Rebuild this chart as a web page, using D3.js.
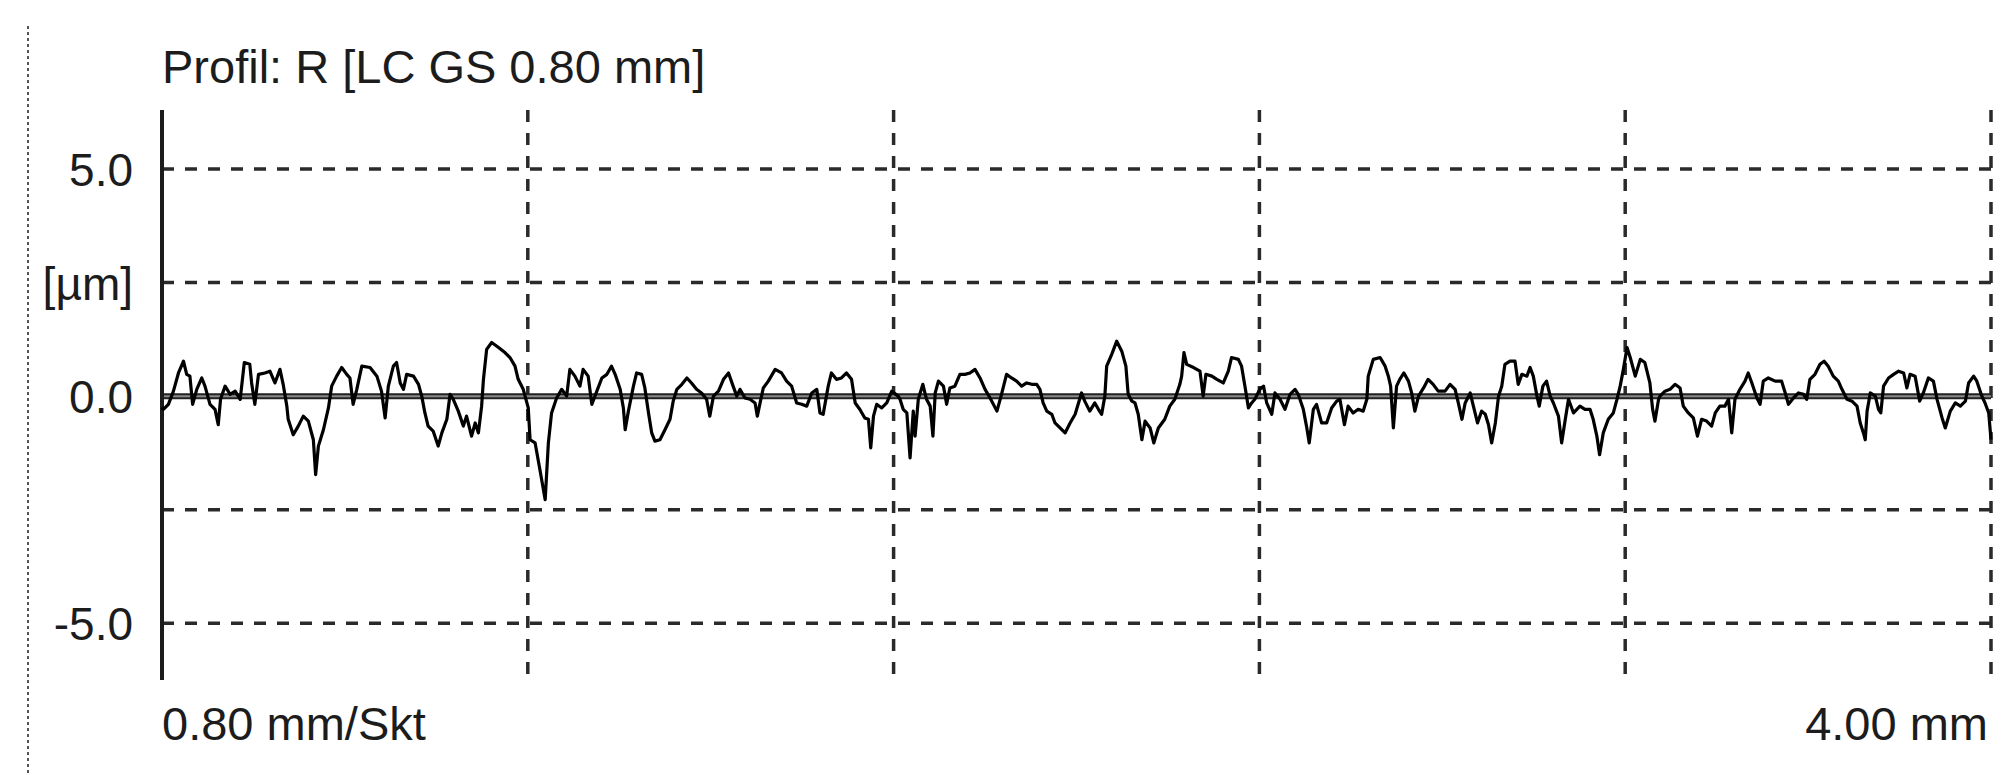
<!DOCTYPE html>
<html>
<head>
<meta charset="utf-8">
<script src="https://cdn.jsdelivr.net/npm/d3@7"></script>
<style>
    body { margin: 0; background: #fff; }
    text { font-family: "Liberation Sans", Arial, sans-serif; fill: #1c1c1c; }
</style>
</head>
<body>
<div id="chart"></div>
<script>
const title = "Profil: R [LC GS 0.80 mm]";
const yTicks = [5, 2.5, 0, -2.5, -5];
const yTickLabels = ["5.0", "[µm]", "0.0", "", "-5.0"];
const xGrid = [0.8, 1.6, 2.4, 3.2, 4.0];
const xLabelLeft = "0.80 mm/Skt";
const xLabelRight = "4.00 mm";

// profile: [position mm, height µm]
const profile = [
    [0.000, -0.25], [0.003, -0.29], [0.014, -0.18], [0.025, 0.11], [0.036, 0.51], [0.047, 0.77], [0.054, 0.48],
    [0.061, 0.44], [0.067, -0.18], [0.076, 0.15], [0.087, 0.40], [0.094, 0.22], [0.105, -0.18], [0.116, -0.29],
    [0.123, -0.63], [0.128, -0.07], [0.138, 0.22], [0.149, 0.04], [0.160, 0.11], [0.171, -0.07], [0.180, 0.74],
    [0.192, 0.70], [0.196, 0.29], [0.203, -0.18], [0.211, 0.48], [0.225, 0.51], [0.236, 0.55], [0.247, 0.29],
    [0.258, 0.59], [0.265, 0.26], [0.273, -0.22], [0.276, -0.51], [0.287, -0.85], [0.298, -0.66], [0.309, -0.44],
    [0.320, -0.55], [0.331, -0.96], [0.336, -1.73], [0.342, -1.10], [0.353, -0.74], [0.364, -0.26], [0.371, 0.22],
    [0.382, 0.44], [0.393, 0.63], [0.404, 0.48], [0.411, 0.40], [0.418, -0.18], [0.426, 0.15], [0.437, 0.66],
    [0.455, 0.63], [0.470, 0.44], [0.480, 0.11], [0.488, -0.48], [0.495, 0.22], [0.506, 0.66], [0.513, 0.74],
    [0.521, 0.29], [0.528, 0.15], [0.535, 0.48], [0.550, 0.44], [0.561, 0.26], [0.568, 0.00], [0.575, -0.37],
    [0.582, -0.66], [0.593, -0.77], [0.604, -1.10], [0.612, -0.81], [0.623, -0.51], [0.630, 0.04], [0.637, -0.07],
    [0.648, -0.33], [0.659, -0.66], [0.666, -0.44], [0.677, -0.88], [0.685, -0.59], [0.692, -0.81], [0.699, -0.22],
    [0.703, 0.37], [0.710, 1.03], [0.721, 1.18], [0.736, 1.07], [0.750, 0.96], [0.761, 0.85], [0.772, 0.66],
    [0.779, 0.37], [0.790, 0.15], [0.801, -0.26], [0.805, -0.96], [0.816, -1.03], [0.827, -1.65], [0.838, -2.28],
    [0.845, -1.03], [0.852, -0.37], [0.863, -0.04], [0.874, 0.15], [0.885, 0.00], [0.892, 0.59], [0.903, 0.44],
    [0.914, 0.22], [0.921, 0.59], [0.932, 0.44], [0.940, -0.18], [0.951, 0.11], [0.962, 0.40], [0.973, 0.48],
    [0.983, 0.66], [0.991, 0.48], [1.002, 0.15], [1.009, -0.26], [1.013, -0.74], [1.020, -0.33], [1.031, 0.22],
    [1.038, 0.51], [1.049, 0.48], [1.056, 0.18], [1.064, -0.37], [1.071, -0.81], [1.078, -0.99], [1.089, -0.96],
    [1.100, -0.74], [1.111, -0.51], [1.118, -0.11], [1.126, 0.15], [1.137, 0.26], [1.148, 0.40], [1.158, 0.29],
    [1.169, 0.15], [1.180, 0.07], [1.191, -0.07], [1.198, -0.44], [1.206, 0.00], [1.217, 0.11], [1.228, 0.37],
    [1.239, 0.51], [1.249, 0.22], [1.257, 0.00], [1.264, 0.15], [1.275, -0.04], [1.286, -0.07], [1.297, -0.15],
    [1.302, -0.44], [1.308, -0.15], [1.315, 0.18], [1.326, 0.33], [1.341, 0.59], [1.355, 0.51], [1.366, 0.33],
    [1.377, 0.22], [1.388, -0.15], [1.399, -0.18], [1.410, -0.22], [1.421, 0.07], [1.432, 0.15], [1.439, -0.37],
    [1.446, -0.40], [1.457, 0.22], [1.464, 0.51], [1.475, 0.37], [1.486, 0.40], [1.497, 0.51], [1.508, 0.37],
    [1.516, -0.15], [1.526, -0.29], [1.537, -0.48], [1.545, -0.51], [1.550, -1.14], [1.556, -0.44], [1.563, -0.18],
    [1.574, -0.26], [1.585, -0.15], [1.596, 0.11], [1.610, 0.00], [1.614, -0.07], [1.621, -0.29], [1.629, -0.37],
    [1.636, -1.36], [1.643, -0.33], [1.647, -0.88], [1.654, -0.07], [1.664, 0.26], [1.672, -0.07], [1.680, -0.22],
    [1.686, -0.88], [1.691, 0.07], [1.698, 0.33], [1.709, 0.22], [1.716, -0.18], [1.723, 0.18], [1.734, 0.22],
    [1.745, 0.48], [1.756, 0.48], [1.767, 0.51], [1.778, 0.59], [1.789, 0.40], [1.800, 0.15], [1.811, -0.04],
    [1.826, -0.33], [1.836, 0.04], [1.847, 0.48], [1.858, 0.40], [1.869, 0.33], [1.880, 0.22], [1.891, 0.29],
    [1.902, 0.26], [1.913, 0.26], [1.920, 0.15], [1.927, -0.15], [1.935, -0.33], [1.946, -0.40], [1.953, -0.59],
    [1.964, -0.70], [1.975, -0.81], [1.986, -0.59], [1.997, -0.40], [2.011, 0.07], [2.018, -0.11], [2.029, -0.33],
    [2.040, -0.15], [2.048, -0.29], [2.055, -0.40], [2.062, 0.00], [2.066, 0.66], [2.077, 0.92], [2.088, 1.21],
    [2.099, 0.99], [2.108, 0.66], [2.113, 0.04], [2.121, -0.11], [2.128, -0.15], [2.135, -0.40], [2.143, -0.96],
    [2.150, -0.55], [2.161, -0.70], [2.169, -1.03], [2.179, -0.70], [2.193, -0.51], [2.204, -0.22], [2.215, -0.07],
    [2.226, 0.26], [2.230, 0.44], [2.235, 0.96], [2.241, 0.70], [2.256, 0.63], [2.270, 0.55], [2.277, 0.00],
    [2.283, 0.48], [2.296, 0.44], [2.307, 0.37], [2.321, 0.29], [2.332, 0.55], [2.339, 0.85], [2.354, 0.81],
    [2.361, 0.66], [2.369, 0.18], [2.376, -0.26], [2.383, -0.15], [2.390, -0.07], [2.401, 0.15], [2.409, 0.22],
    [2.416, -0.15], [2.427, -0.40], [2.434, 0.07], [2.445, -0.07], [2.456, -0.29], [2.467, 0.04], [2.478, 0.15],
    [2.485, 0.04], [2.496, -0.29], [2.503, -0.66], [2.509, -1.03], [2.518, -0.29], [2.525, -0.18], [2.536, -0.59],
    [2.547, -0.59], [2.558, -0.26], [2.569, -0.11], [2.576, -0.07], [2.586, -0.63], [2.594, -0.22], [2.605, -0.37],
    [2.616, -0.29], [2.627, -0.33], [2.635, -0.07], [2.638, 0.44], [2.649, 0.81], [2.664, 0.85], [2.675, 0.66],
    [2.682, 0.44], [2.687, 0.22], [2.693, -0.70], [2.700, 0.22], [2.707, 0.37], [2.716, 0.51], [2.726, 0.33],
    [2.733, 0.07], [2.740, -0.33], [2.748, 0.00], [2.759, 0.18], [2.769, 0.37], [2.780, 0.26], [2.791, 0.11],
    [2.806, 0.11], [2.817, 0.26], [2.828, 0.15], [2.835, -0.15], [2.843, -0.51], [2.850, -0.15], [2.861, 0.07],
    [2.868, -0.22], [2.877, -0.59], [2.886, -0.33], [2.894, -0.40], [2.901, -0.63], [2.908, -1.03], [2.916, -0.59],
    [2.923, 0.00], [2.930, 0.22], [2.937, 0.70], [2.948, 0.77], [2.959, 0.77], [2.966, 0.26], [2.974, 0.48],
    [2.985, 0.44], [2.992, 0.63], [2.999, 0.44], [3.007, 0.00], [3.012, -0.22], [3.020, 0.22], [3.028, 0.33],
    [3.036, 0.00], [3.043, -0.15], [3.054, -0.44], [3.061, -1.03], [3.069, -0.51], [3.076, -0.07], [3.087, -0.37],
    [3.101, -0.22], [3.112, -0.29], [3.123, -0.29], [3.130, -0.51], [3.138, -0.88], [3.144, -1.29], [3.152, -0.81],
    [3.163, -0.51], [3.174, -0.37], [3.182, -0.07], [3.189, 0.22], [3.196, 0.59], [3.204, 1.07], [3.211, 0.85],
    [3.222, 0.44], [3.233, 0.81], [3.243, 0.74], [3.254, 0.29], [3.260, -0.29], [3.265, -0.55], [3.273, -0.07],
    [3.276, 0.00], [3.287, 0.11], [3.298, 0.15], [3.309, 0.26], [3.320, 0.18], [3.327, -0.22], [3.338, -0.37],
    [3.349, -0.48], [3.358, -0.88], [3.367, -0.51], [3.378, -0.55], [3.389, -0.66], [3.397, -0.37], [3.407, -0.22],
    [3.418, -0.22], [3.426, -0.07], [3.433, -0.81], [3.440, -0.07], [3.451, 0.15], [3.462, 0.33], [3.469, 0.51],
    [3.477, 0.29], [3.488, -0.04], [3.495, -0.18], [3.502, 0.33], [3.513, 0.40], [3.528, 0.33], [3.542, 0.33],
    [3.550, 0.07], [3.557, -0.18], [3.568, -0.04], [3.579, 0.07], [3.590, 0.04], [3.597, -0.07], [3.604, 0.37],
    [3.615, 0.48], [3.626, 0.70], [3.635, 0.77], [3.644, 0.66], [3.655, 0.44], [3.666, 0.33], [3.674, 0.15],
    [3.685, -0.07], [3.696, -0.11], [3.707, -0.22], [3.714, -0.59], [3.721, -0.81], [3.725, -0.96], [3.729, -0.33],
    [3.736, 0.07], [3.747, 0.00], [3.754, -0.29], [3.759, -0.37], [3.765, 0.22], [3.776, 0.40], [3.787, 0.48],
    [3.798, 0.55], [3.809, 0.51], [3.816, 0.18], [3.823, 0.48], [3.834, 0.44], [3.844, -0.11], [3.852, 0.07],
    [3.863, 0.40], [3.874, 0.33], [3.882, -0.07], [3.893, -0.48], [3.900, -0.70], [3.911, -0.33], [3.922, -0.15],
    [3.933, -0.22], [3.944, -0.11], [3.951, 0.29], [3.962, 0.44], [3.969, 0.33], [3.980, 0.00], [3.987, -0.15],
    [3.995, -0.37], [4.000, -0.96]
];

const width = 2011, height = 775;
const margin = { left: 162, right: 20, top: 110, bottom: 95 };
const inner_width = width - margin.left - margin.right;
const inner_height = height - margin.top - margin.bottom;

const x = d3.scaleLinear().domain([0, 4]).range([0, inner_width]);
const y = d3.scaleLinear().domain([-6.25, 6.3]).range([inner_height, 0]);

const root = d3.select("#chart")
    .append("svg")
    .attr("width", width)
    .attr("height", height)
    .style("display", "block");

// dotted frame line on the far left
root.append("line")
    .attr("x1", 28).attr("x2", 28)
    .attr("y1", 26).attr("y2", height)
    .attr("stroke", "#555")
    .attr("stroke-width", 2)
    .attr("stroke-dasharray", "3,3");

root.append("text")
    .attr("x", margin.left)
    .attr("y", 83)
    .style("font-size", "47px")
    .text(title);

const svg = root.append("g")
    .attr("transform", `translate(${margin.left}, ${margin.top})`);

// horizontal dashed grid
svg.append("g")
    .selectAll("line")
    .data(yTicks.filter(d => d !== 0))
    .enter()
    .append("line")
    .attr("x1", 0).attr("x2", x(4))
    .attr("y1", d => y(d)).attr("y2", d => y(d))
    .attr("stroke", "#2a2a2a")
    .attr("stroke-width", 3.5)
    .attr("stroke-dasharray", "12,11");

// vertical dashed grid
svg.append("g")
    .selectAll("line")
    .data(xGrid)
    .enter()
    .append("line")
    .attr("x1", d => x(d)).attr("x2", d => x(d))
    .attr("y1", 0).attr("y2", inner_height)
    .attr("stroke", "#2a2a2a")
    .attr("stroke-width", 3.5)
    .attr("stroke-dasharray", "12,11");

// zero line
svg.append("line")
    .attr("x1", 0).attr("x2", x(4))
    .attr("y1", y(0)).attr("y2", y(0))
    .attr("stroke", "#222")
    .attr("stroke-width", 6);
svg.append("line")
    .attr("x1", 0).attr("x2", x(4))
    .attr("y1", y(0)).attr("y2", y(0))
    .attr("stroke", "#8a8a8a")
    .attr("stroke-width", 2);

// y axis line
svg.append("line")
    .attr("x1", 0).attr("x2", 0)
    .attr("y1", 0).attr("y2", inner_height)
    .attr("stroke", "#1c1c1c")
    .attr("stroke-width", 4);

// y labels
const yAxis = svg.append("g")
    .call(d3.axisLeft(y).tickValues(yTicks).tickFormat((d, i) => yTickLabels[i]).tickSize(0).tickPadding(29));
yAxis.select(".domain").remove();
yAxis.selectAll("text")
    .attr("dy", "0.36em")
    .style("font-size", "46px")
    .style("font-family", "'Liberation Sans', Arial, sans-serif")
    .attr("fill", "#1c1c1c");

// profile
svg.append("path")
    .datum(profile)
    .attr("fill", "none")
    .attr("stroke", "#000")
    .attr("stroke-width", 3.2)
    .attr("stroke-linejoin", "round")
    .attr("d", d3.line().x(d => x(d[0])).y(d => y(d[1])));

// bottom labels
root.append("text")
    .attr("x", margin.left)
    .attr("y", 740)
    .style("font-size", "47px")
    .text(xLabelLeft);
root.append("text")
    .attr("x", margin.left + x(4) - 3)
    .attr("y", 740)
    .attr("text-anchor", "end")
    .style("font-size", "47px")
    .text(xLabelRight);
</script>
</body>
</html>
